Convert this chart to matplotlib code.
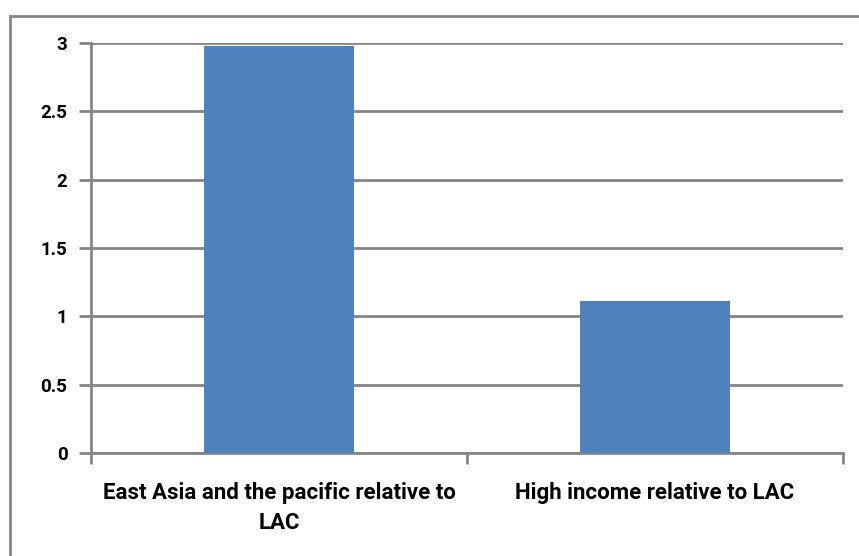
import numpy as np
import matplotlib.pyplot as plt
from matplotlib.patches import Rectangle

categories = ["East Asia and the pacific relative to\nLAC", "High income relative to LAC"]
values = [2.98, 1.11]
yticks = [0, 0.5, 1, 1.5, 2, 2.5, 3]

plt.rcParams['font.family'] = ['Roboto', 'DejaVu Sans']

fig = plt.figure(figsize=(8.59, 5.56), dpi=100)
ax = fig.add_axes([91/859, 1-453/556, (843-91)/859, (453-43)/556])

grid_col = '#868686'
x = np.arange(len(categories))
ax.bar(x, values, width=0.4, color='#4F81BD', zorder=3)

ax.set_xlim(-0.5, len(categories)-0.5)
ax.set_ylim(0, 3)
ax.set_yticks(yticks)
ax.set_yticklabels([f"{v:g}" for v in yticks], fontsize=13.5, fontweight='bold')
ax.yaxis.grid(True, color=grid_col, linewidth=2, zorder=0)
ax.tick_params(axis='y', length=9, width=2, color=grid_col, pad=8)

# category labels between boundary ticks
ax.set_xticks([-0.5, 0.5, 1.5])
ax.set_xticklabels([])
ax.tick_params(axis='x', length=8, width=2, color=grid_col)
for xi, lab in zip(x, categories):
    ax.text(xi, -0.215, lab, ha='center', va='top', fontsize=16, fontweight='bold',
            linespacing=1.45, transform=ax.transData)

for s in ['top', 'right']:
    ax.spines[s].set_visible(False)
for s in ['left', 'bottom']:
    ax.spines[s].set_color(grid_col)
    ax.spines[s].set_linewidth(2)

fig.patches.append(Rectangle((10/859, -0.1), 1.0, 1.1 - 16/556, transform=fig.transFigure,
                             fill=False, edgecolor=grid_col, linewidth=2))

fig.savefig("out.png", dpi=100)
